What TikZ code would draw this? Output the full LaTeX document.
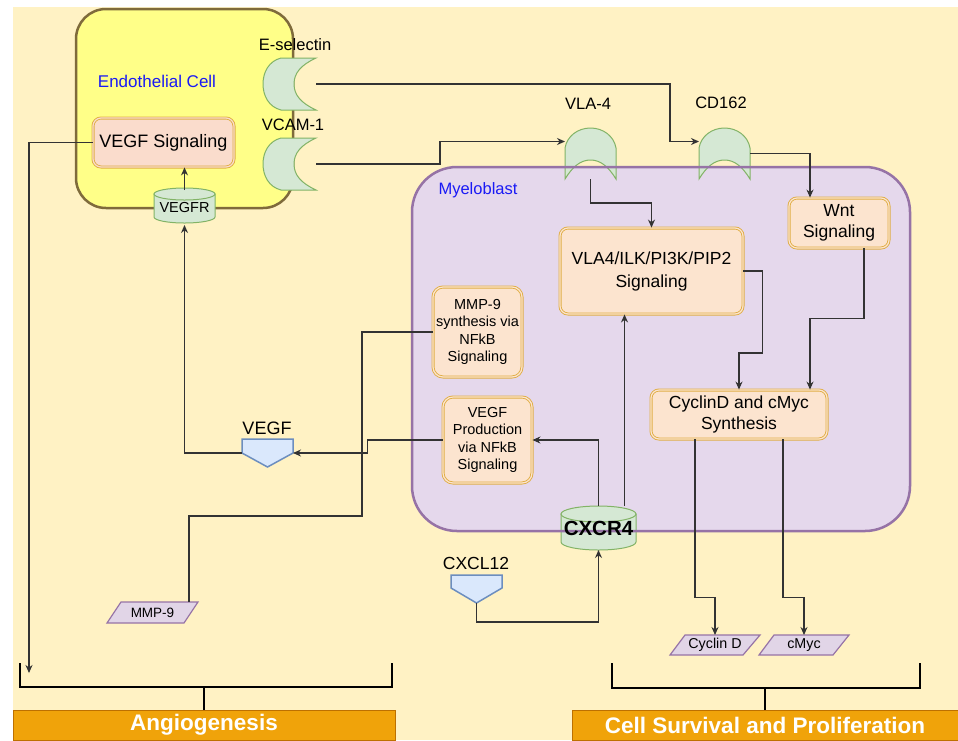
\documentclass[tikz,border=0pt]{standalone}
\usepackage{fontspec}
\setmainfont{Liberation Sans}
\usetikzlibrary{arrows.meta}
\definecolor{cream}{HTML}{FFF2C4}
\definecolor{endofill}{HTML}{FFFF88}
\definecolor{endoline}{HTML}{7F6B3B}
\definecolor{myelofill}{HTML}{E5D8EC}
\definecolor{myeloline}{HTML}{9673A6}
\definecolor{boxfill}{HTML}{FCE4CF}
\definecolor{sigfill}{HTML}{FADCCC}
\definecolor{boxline}{HTML}{E0AE45}
\definecolor{recfill}{HTML}{D5E8D4}
\definecolor{recline}{HTML}{82B366}
\definecolor{offfill}{HTML}{DAE8FC}
\definecolor{offline}{HTML}{6C8EBF}
\definecolor{prodfill}{HTML}{E1D5E7}
\definecolor{prodline}{HTML}{9673A6}
\definecolor{barfill}{HTML}{F0A30A}
\definecolor{barline}{HTML}{BD7000}
\definecolor{wire}{HTML}{333333}
\definecolor{celltext}{HTML}{1A1AF5}
\newcommand\setfs[2]{\fontsize{#1}{#2}\selectfont}
% upright drum: left x, right x, top y, bottom y, cap radius
\newcommand\drumshape[5]{%
  \filldraw[receptor] (#1,#3+#5) -- (#1,#4-#5)
    arc[start angle=180, end angle=0, x radius={(#2-#1)/2}, y radius=#5]
    -- (#2,#3+#5) -- cycle;
  \filldraw[receptor] ({(#1+#2)/2},#3+#5) ellipse[x radius={(#2-#1)/2}, y radius=#5];
}
% receptor opening to the right (local box 53 x 52)
\newcommand\sideclaw{%
  (53,0) -- (18,0) .. controls (6,3) and (0,14) .. (0,26)
  .. controls (0,38) and (6,49) .. (18,52) -- (53,52)
  .. controls (38,45) and (31,37) .. (31,26)
  .. controls (31,15) and (38,7) .. (53,0) -- cycle}
% receptor opening downwards (local box 51 x 51)
\newcommand\domeclaw{%
  (0,51) -- (0,20) .. controls (2,8) and (13,0) .. (25.5,0)
  .. controls (38,0) and (49,8) .. (51,20) -- (51,51)
  .. controls (43,38) and (35,32) .. (25.5,32)
  .. controls (16,32) and (8,38) .. (0,51) -- cycle}

\begin{document}
\begin{tikzpicture}[x=1pt,y=-1pt,
  sigbox/.style={draw=boxline, double=boxfill, double distance=1.2pt, line width=0.9pt,
    fill=boxfill, rounded corners=8pt, align=center, inner sep=0pt, text=black},
  anchorbox/.style={inner sep=0pt, outer sep=0pt},
  receptor/.style={fill=recfill, draw=recline, line width=1pt},
  offpage/.style={fill=offfill, draw=offline, line width=1.5pt, line join=miter},
  product/.style={fill=prodfill, draw=prodline, line width=1.2pt},
  wirel/.style={draw=wire, line width=1.1pt},
  arr/.style={wirel, -{Stealth[length=8pt, width=7pt]}},
  bracketl/.style={draw=black, line width=1.6pt},
  outcome/.style={fill=barfill, draw=barline, line width=1pt, text=white,
    font=\setfs{22.5}{26}\bfseries, inner sep=0pt},
  lbl/.style={inner sep=0pt, text=black},
]
\useasboundingbox (0,0) rectangle (958,740);
\fill[white] (0,0) rectangle (958,740);
\fill[cream] (13,7) rectangle (958,740);

% endothelial cell
\node[draw=endoline, fill=endofill, line width=2.5pt, rounded corners=30pt,
  minimum width=217pt, minimum height=199pt, anchorbox] (endo) at (184.5,108.5) {};
\node[lbl, text=celltext, font=\setfs{17}{20}] (endolbl) at (157,81) {Endothelial Cell};

% myeloblast body
\node[fill=myelofill, rounded corners=45pt, minimum width=498pt, minimum height=364pt,
  anchorbox] (myelo) at (661,349) {};
\begin{scope}[shift={(565,128)}] \filldraw[receptor] \domeclaw; \end{scope}
\begin{scope}[shift={(699,128)}] \filldraw[receptor] \domeclaw; \end{scope}
\drumshape{561}{636}{506}{550}{8}
\draw[myeloline, line width=2.5pt, rounded corners=45pt]
  (myelo.south west) rectangle (myelo.north east);
\node[lbl, text=celltext, font=\setfs{16.5}{20}] (myelolbl) at (478,190) {Myeloblast};

% receptors on the membranes
\node[anchorbox, minimum width=51pt, minimum height=51pt] (vla) at (590.5,153.5) {};
\node[anchorbox, minimum width=51pt, minimum height=51pt] (cd) at (724.5,153.5) {};
\node[lbl, font=\setfs{16.5}{20}] (vlalbl) at (588,104) {VLA-4};
\node[lbl, font=\setfs{16.5}{20}] (cdlbl) at (721,103) {CD162};
\node[anchorbox, minimum width=75pt, minimum height=44pt, font=\setfs{20.5}{24}\bfseries]
  (cxcr) at (598.5,528) {CXCR4};

\drumshape{154}{215}{188}{223}{6}
\node[anchorbox, minimum width=61pt, minimum height=35pt, font=\setfs{14.5}{17}]
  (vegfr) at (184.5,207.5) {VEGFR};

\begin{scope}[shift={(263,58)}] \filldraw[receptor] \sideclaw; \end{scope}
\begin{scope}[shift={(263,138)}] \filldraw[receptor] \sideclaw; \end{scope}
\node[anchorbox, minimum width=53pt, minimum height=52pt] (esel) at (289.5,84) {};
\node[anchorbox, minimum width=53pt, minimum height=52pt] (vcam) at (289.5,164) {};
\node[lbl, font=\setfs{16.5}{20}] (esellbl) at (295,45) {E-selectin};
\node[lbl, font=\setfs{16.5}{20}] (vcamlbl) at (293,125) {VCAM-1};

% signalling boxes
\node[sigbox, fill=sigfill, double=sigfill, minimum width=141pt, minimum height=49pt,
  font=\setfs{18}{21}] (vegfsig) at (163.5,142.5) {VEGF Signaling};
\node[sigbox, minimum width=183pt, minimum height=86pt, font=\setfs{17.5}{23}]
  (vla4sig) at (651.5,271) {VLA4/ILK/PI3K/PIP2\\Signaling};
\node[sigbox, minimum width=100pt, minimum height=50pt, font=\setfs{17.5}{21}]
  (wnt) at (839,223) {Wnt\\Signaling};
\node[sigbox, minimum width=176pt, minimum height=49pt, font=\setfs{17.5}{21}]
  (syn) at (739,414.5) {CyclinD and cMyc\\Synthesis};
\node[sigbox, rounded corners=10pt, minimum width=89pt, minimum height=90pt,
  font=\setfs{14.5}{17.5}] (mmpsyn) at (477.5,332) {MMP-9\\synthesis via\\NFkB\\Signaling};
\node[sigbox, rounded corners=10pt, minimum width=89pt, minimum height=86pt,
  font=\setfs{14.5}{17.5}] (vegfprod) at (487.5,440) {VEGF\\Production\\via NFkB\\Signaling};

% ligands
\filldraw[offpage] (242,439) -- (293,439) -- (293,453) -- (267.5,467) -- (242,453) -- cycle;
\node[anchorbox, minimum width=51pt, minimum height=28pt] (vegf) at (267.5,453) {};
\node[lbl, font=\setfs{18}{21}] (vegflbl) at (267,428) {VEGF};
\filldraw[offpage] (451,575) -- (502,575) -- (502,588) -- (476.5,603) -- (451,588) -- cycle;
\node[anchorbox, minimum width=51pt, minimum height=28pt] (cxcl) at (476.5,589) {};
\node[lbl, font=\setfs{17.5}{21}] (cxcllbl) at (476,563) {CXCL12};

% products
\filldraw[product] (107,623) -- (121,602) -- (198,602) -- (184,623) -- cycle;
\node[anchorbox, minimum width=91pt, minimum height=21pt, font=\setfs{13.5}{16}]
  (mmp) at (152.5,612.5) {MMP-9};
\filldraw[product] (670,655) -- (685,635) -- (760,635) -- (743,655) -- cycle;
\node[anchorbox, minimum width=90pt, minimum height=20pt, font=\setfs{14.3}{17}]
  (cycd) at (715,645) {Cyclin D};
\filldraw[product] (759,655) -- (774,635) -- (849,635) -- (833,655) -- cycle;
\node[anchorbox, minimum width=90pt, minimum height=20pt, font=\setfs{14.3}{17}]
  (cmyc) at (804,645) {cMyc};

% outcomes
\node[outcome, minimum width=382pt, minimum height=30pt] (angio) at (204,725) {Angiogenesis};
\node[outcome, minimum width=386pt, minimum height=30pt] (surv) at (765,725) {Cell Survival and Proliferation};
\coordinate (angL) at (20,663);
\coordinate (angR) at (392,663);
\coordinate (survL) at (612,663);
\coordinate (survR) at (920,663);
\draw[bracketl] (angL) -- ++(0,24) -| (angR);
\draw[bracketl] (angio.north) -- (angio.north |- 0,687);
\draw[bracketl] (survL) -- ++(0,25) -| (survR);
\draw[bracketl] (surv.north) -- (surv.north |- 0,688);

% connectors
\coordinate (angIn) at (29,673);
\draw[arr] (vegfsig.west) -| (angIn);
\draw[arr] (vegfr.north) -- (vegfr.north |- vegfsig.south);
\draw[arr] (vegf.west) -| (vegfr.south);
\draw[arr] (vegfprod.west) -- ++(-75,0) |- (vegf.east);
\coordinate (mmpTurn) at (362,516);
\draw[wirel] (mmpsyn.west) -| (mmpTurn) -| ([xshift=36.5pt]mmp.north);
\draw[arr] (cxcl.south) -- ++(0,19) -| (cxcr.south);
\draw[arr] (cxcr.north) |- (vegfprod.east);
\draw[arr] ([xshift=26pt]cxcr.north) -- ([xshift=26pt]cxcr.north |- vla4sig.south);
\draw[arr] (vcam.east) -- ++(124,0) |- ([yshift=12pt]vla.west);
\draw[arr] (esel.east) -- ++(354,0) |- ([yshift=12pt]cd.west);
\draw[arr] (vla.south) -- ++(0,24) -| (vla4sig.north);
\draw[arr] (cd.east) -| ([xshift=-29pt]wnt.north);
\draw[arr] (vla4sig.east) -| ++(19,82) -| (syn.north);
\draw[arr] ([xshift=25pt]wnt.south) |- ++(-54,70) -- ([xshift=71pt]syn.north);
\draw[arr] ([xshift=-44pt]syn.south) -- ++(0,158) -| (cycd.north);
\draw[arr] ([xshift=44pt]syn.south) -- ++(0,158) -| (cmyc.north);
\end{tikzpicture}
\end{document}
